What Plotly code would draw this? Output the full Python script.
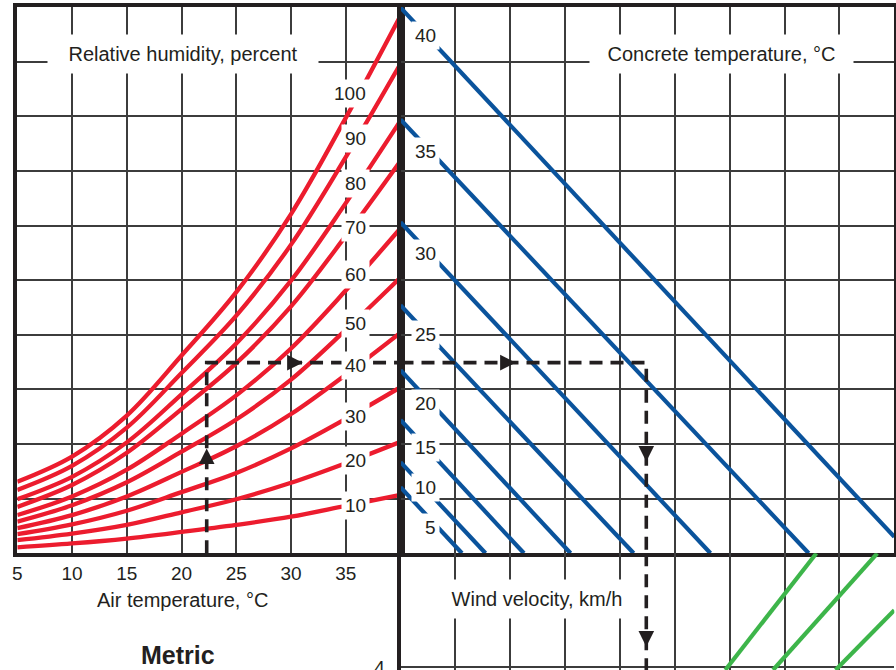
import plotly.graph_objects as go

# ---------------- data ----------------
air_temp = [5, 10, 15, 20, 25, 30, 35, 40]          # deg C, left panel x
rh_levels = ["100", "90", "80", "70", "60", "50", "40", "30", "20", "10"]
rh_100 = [1.31, 1.77, 2.52, 3.62, 4.78, 6.21, 7.97, 9.84]
rh_90 = [1.16, 1.60, 2.30, 3.30, 4.35, 5.65, 7.25, 8.96]
rh_80 = [0.99, 1.40, 2.03, 2.91, 3.84, 4.99, 6.41, 7.92]
rh_70 = [0.85, 1.25, 1.84, 2.64, 3.48, 4.52, 5.81, 7.18]
rh_60 = [0.70, 1.04, 1.53, 2.19, 2.89, 3.75, 4.81, 5.95]
rh_50 = [0.58, 0.88, 1.30, 1.86, 2.45, 3.18, 4.09, 5.05]
rh_40 = [0.46, 0.70, 1.04, 1.49, 1.96, 2.55, 3.27, 4.04]
rh_30 = [0.35, 0.53, 0.78, 1.12, 1.47, 1.92, 2.46, 3.04]
rh_20 = [0.24, 0.36, 0.52, 0.75, 0.99, 1.29, 1.65, 2.04]
rh_10 = [0.11, 0.18, 0.27, 0.39, 0.52, 0.67, 0.87, 1.07]

concrete_levels = ["40", "35", "30", "25", "20", "15", "10", "5"]
concrete_start_x = [0, 0, 0, 0, 0, 0, 0, 0]
concrete_start_y = [9.99, 7.94, 6.06, 4.54, 3.35, 2.44, 1.67, 1.21]
concrete_end_x = [9.0, 7.44, 5.65, 4.25, 3.10, 2.25, 1.55, 1.12]
concrete_end_y = [0.30, 0, 0, 0, 0, 0, 0, 0]

wind_top_x = [7.58, 8.69, 9.0]
wind_top_y = [0, 0, -1.0]
wind_bot_x = [5.92, 6.79, 7.93]
wind_bot_y = [-2.05, -2.05, -2.05]

example_air_temp = 22.3
example_level = 3.49
example_drop_x = 4.48

x_tick_vals = [5, 10, 15, 20, 25, 30, 35]
x_tick_text = ["5", "10", "15", "20", "25", "30", "35"]
evap_tick_vals = [-2]
evap_tick_text = ["4"]

# ---------------- layout constants ----------------
W, H = 896, 670
RED, BLUE, GREEN, INK = "#EC1C2E", "#0A539C", "#3DB54A", "#231F20"
GRID = "#3C3C3C"
FONT = "Liberation Sans, Arial, sans-serif"


def px_x(p):
    return p / W


def px_y(p):
    return 1 - p / H


rh_label_x = 37.18
rh_label_y = [8.41, 7.59, 6.77, 5.97, 5.11, 4.21, 3.44, 2.51, 1.69, 0.88]
conc_label_x = 0.72
conc_label_y = [9.48, 7.35, 5.49, 4.00, 2.75, 1.94, 1.21, 0.48]

fig = go.Figure()

rh_series = [rh_100, rh_90, rh_80, rh_70, rh_60, rh_50, rh_40, rh_30, rh_20, rh_10]
for name, vals in zip(rh_levels, rh_series):
    fig.add_trace(go.Scatter(x=air_temp, y=vals, mode="lines", xaxis="x", yaxis="y",
                             line=dict(color=RED, width=4.3, shape="spline", smoothing=1.0),
                             name=name + "%", hoverinfo="skip"))

for i, name in enumerate(concrete_levels):
    fig.add_trace(go.Scatter(x=[concrete_start_x[i], concrete_end_x[i]],
                             y=[concrete_start_y[i], concrete_end_y[i]],
                             mode="lines", xaxis="x2", yaxis="y2",
                             line=dict(color=BLUE, width=4.2), name=name, hoverinfo="skip"))

for i in range(len(wind_top_x)):
    fig.add_trace(go.Scatter(x=[wind_top_x[i], wind_bot_x[i]], y=[wind_top_y[i], wind_bot_y[i]],
                             mode="lines", xaxis="x3", yaxis="y3",
                             line=dict(color=GREEN, width=4.2), hoverinfo="skip"))

dash = dict(color=INK, width=3.6, dash="13px,8px")
fig.add_trace(go.Scatter(x=[example_air_temp, example_air_temp, 40], y=[0, example_level, example_level],
                         mode="lines", xaxis="x", yaxis="y", line=dash, hoverinfo="skip"))
fig.add_trace(go.Scatter(x=[0, example_drop_x, example_drop_x], y=[example_level, example_level, 0],
                         mode="lines", xaxis="x2", yaxis="y2", line=dash, hoverinfo="skip"))
fig.add_trace(go.Scatter(x=[example_drop_x, example_drop_x], y=[0, -2.05],
                         mode="lines", xaxis="x3", yaxis="y3", line=dash, hoverinfo="skip"))

ann = []
lab_font = dict(family=FONT, size=19, color=INK)
for name, yy in zip(rh_levels, rh_label_y):
    ann.append(dict(x=rh_label_x, y=yy, xref="x", yref="y", text=name, showarrow=False,
                    xanchor="right", yanchor="middle", bgcolor="white", borderpad=3, font=lab_font))
for name, yy in zip(concrete_levels, conc_label_y):
    ann.append(dict(x=conc_label_x, y=yy, xref="x2", yref="y2", text=name, showarrow=False,
                    xanchor="right", yanchor="middle", bgcolor="white", borderpad=3, font=lab_font))

title_font = dict(family=FONT, size=20, color=INK)
center = dict(xref="paper", yref="paper", showarrow=False, xanchor="center", yanchor="middle")
ann.append(dict(x=px_x(183), y=px_y(54), text="Relative humidity, percent",
                width=270, height=38, bgcolor="white", borderpad=0, font=title_font, **center))
ann.append(dict(x=px_x(721.5), y=px_y(54), text="Concrete temperature, °C",
                width=263, height=38, bgcolor="white", borderpad=0, font=title_font, **center))
ann.append(dict(x=px_x(537), y=px_y(599), text="Wind velocity, km/h",
                width=200, height=38, bgcolor="white", borderpad=0, font=title_font, **center))
ann.append(dict(x=px_x(182), y=px_y(600), text="Air temperature, °C", font=title_font, **center))
ann.append(dict(x=px_x(178), y=px_y(655), text="<b>Metric</b>",
                font=dict(family=FONT, size=25, color=INK), **center))

# arrowheads along the example path
arrow_common = dict(text="", showarrow=True, arrowhead=2, arrowsize=1.3, arrowwidth=2.4, arrowcolor=INK)
ann.append(dict(x=example_air_temp, y=1.92, xref="x", yref="y", ax=0, ay=14, **arrow_common))
ann.append(dict(x=31.07, y=example_level, xref="x", yref="y", ax=-14, ay=0, **arrow_common))
ann.append(dict(x=2.10, y=example_level, xref="x2", yref="y2", ax=-14, ay=0, **arrow_common))
ann.append(dict(x=example_drop_x, y=1.68, xref="x2", yref="y2", ax=0, ay=-14, **arrow_common))
ann.append(dict(x=example_drop_x, y=-1.64, xref="x3", yref="y3", ax=0, ay=-14, **arrow_common))

ydom = [px_y(553.3), px_y(7)]
xl = [px_x(17.3), px_x(400.5)]
xr = [px_x(400.5), px_x(894.3)]
axline = dict(showline=True, linecolor=INK, linewidth=3.6, mirror=True, zeroline=False,
              gridcolor=GRID, gridwidth=1.5, fixedrange=True, automargin=False)

fig.update_layout(
    width=W, height=H, margin=dict(l=0, r=0, t=0, b=0, autoexpand=False),
    paper_bgcolor="white", plot_bgcolor="white", showlegend=False,
    font=dict(family=FONT, color=INK),
    xaxis=dict(domain=xl, range=[5, 40], anchor="y", tickvals=x_tick_vals, ticktext=x_tick_text,
               ticks="", ticklabelstandoff=0, tickfont=dict(family=FONT, size=19, color=INK),
               showgrid=True, **axline),
    yaxis=dict(domain=ydom, range=[0, 10], anchor="x", dtick=1, showticklabels=False, ticks="",
               showgrid=True, **axline),
    xaxis2=dict(domain=xr, range=[0, 9], anchor="y2", dtick=1, showticklabels=False, ticks="",
                showgrid=True, **axline),
    yaxis2=dict(domain=ydom, range=[0, 10], anchor="x2", dtick=1, showticklabels=False, ticks="",
                showgrid=True, **axline),
    xaxis3=dict(domain=xr, range=[0, 9], anchor="y3", dtick=1, showticklabels=False, ticks="",
                showgrid=True, showline=False, zeroline=False, gridcolor=GRID, gridwidth=1.5,
                fixedrange=True, automargin=False),
    yaxis3=dict(domain=[0, px_y(553.3)], range=[-2.05, 0], anchor="x3", tickvals=evap_tick_vals,
                ticktext=evap_tick_text, ticks="", ticklabelstandoff=8, ticklabeloverflow="allow",
                tickfont=dict(family=FONT, size=19, color=INK), showgrid=True, showline=True,
                linecolor=INK, linewidth=3.6, zeroline=False, gridcolor=GRID, gridwidth=1.5,
                fixedrange=True, automargin=False),
    annotations=ann,
)

fig.write_html("out.html", config={"displayModeBar": False},
               post_script="document.body.style.margin='0px';document.body.style.overflow='hidden';")
